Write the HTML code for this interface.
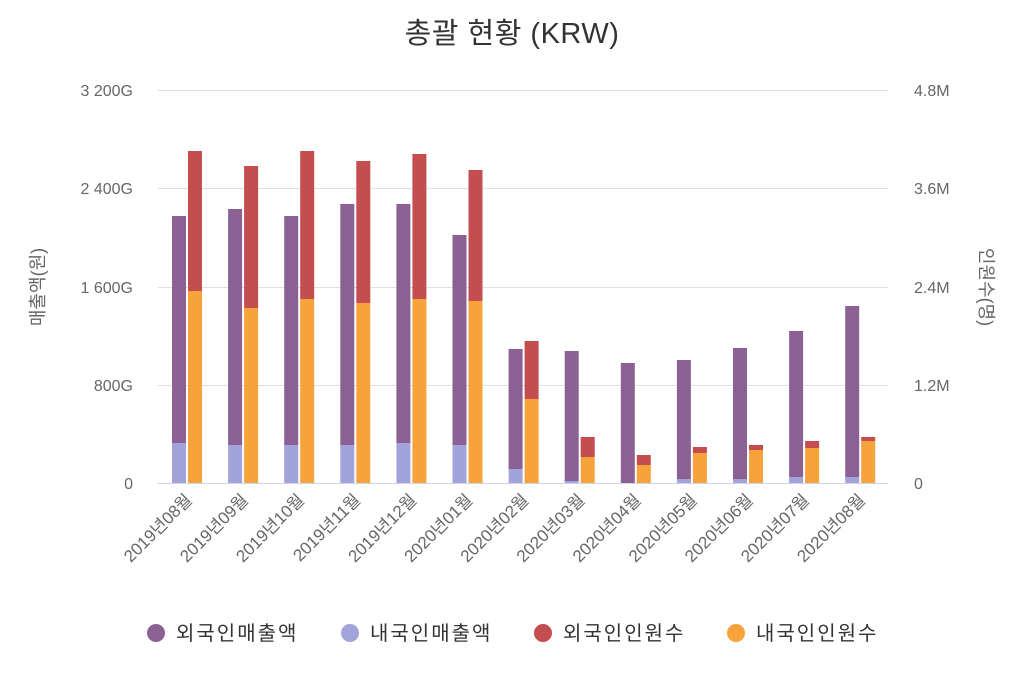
<!DOCTYPE html>
<html><head><meta charset="utf-8"><style>
body{margin:0;background:#fff;}
text{font-family:"Liberation Sans","Noto Sans CJK KR",sans-serif;}
</style></head><body>
<svg width="1024" height="682" xmlns="http://www.w3.org/2000/svg">
<text x="512" y="43" text-anchor="middle" font-size="29" letter-spacing="0.5" fill="#333">총괄 현황 (KRW)</text>
<g stroke="#e0e0e0" stroke-width="1">
<line x1="158" x2="888" y1="90.5" y2="90.5"/>
<line x1="158" x2="888" y1="188.5" y2="188.5"/>
<line x1="158" x2="888" y1="287.5" y2="287.5"/>
<line x1="158" x2="888" y1="385.5" y2="385.5"/>
</g>
<g font-size="16" fill="#666" text-anchor="end">
<text x="133" y="96">3 200G</text><text x="133" y="194">2 400G</text><text x="133" y="293">1 600G</text><text x="133" y="391">800G</text><text x="133" y="489">0</text>
</g>
<g font-size="16" fill="#666">
<text x="914" y="96">4.8M</text><text x="914" y="194">3.6M</text><text x="914" y="293">2.4M</text><text x="914" y="391">1.2M</text><text x="914" y="489">0</text>
</g>
<text transform="translate(44,287) rotate(-90)" text-anchor="middle" font-size="18" fill="#666">매출액(원)</text>
<text transform="translate(980,287) rotate(90)" text-anchor="middle" font-size="18" fill="#666">인원수(명)</text>
<g id="bars"></g>
<line x1="158" x2="888" y1="483.5" y2="483.5" stroke="#ccd6eb"/>
<g id="labels" font-size="17" fill="#666" text-anchor="end"></g>
<g font-size="20" fill="#333" letter-spacing="2">
<circle cx="156" cy="633" r="9" fill="#8b6194"/><text x="176" y="640">외국인매출액</text>
<circle cx="350" cy="633" r="9" fill="#a3a3dc"/><text x="370" y="640">내국인매출액</text>
<circle cx="543" cy="633" r="9" fill="#c44d4f"/><text x="563" y="640">외국인인원수</text>
<circle cx="736" cy="633" r="9" fill="#f7a33b"/><text x="756" y="640">내국인인원수</text>
</g>
</svg>
<script>
var pt=[216,209,216,204,204,235,349,351,363,360,348,331,306];
var lb=[443,445,445,445,443,445,469,481,483,479,479,477,477];
var rt=[151,166,151,161,154,170,341,437,455,447,445,441,437];
var ot=[291,308,299,303,299,301,399,457,465,453,450,448,441];
var labs=["2019년08월","2019년09월","2019년10월","2019년11월","2019년12월","2020년01월","2020년02월","2020년03월","2020년04월","2020년05월","2020년06월","2020년07월","2020년08월"];
var ns="http://www.w3.org/2000/svg",g=document.getElementById("bars"),L=document.getElementById("labels");
function r(x,y1,y2,c){var e=document.createElementNS(ns,"rect");e.setAttribute("x",x);e.setAttribute("y",y1);e.setAttribute("width",14);e.setAttribute("height",Math.max(0,y2-y1));e.setAttribute("fill",c);g.appendChild(e);}
for(var i=0;i<13;i++){var x=172+i*56.1;
r(x,pt[i],lb[i],"#8b6194");r(x,lb[i],483,"#a3a3dc");
r(x+16,rt[i],ot[i],"#c44d4f");r(x+16,ot[i],483,"#f7a33b");
var t=document.createElementNS(ns,"text");var cx=x+21;t.setAttribute("transform","translate("+cx+",501) rotate(-45)");t.textContent=labs[i];L.appendChild(t);}
</script>
</body></html>
